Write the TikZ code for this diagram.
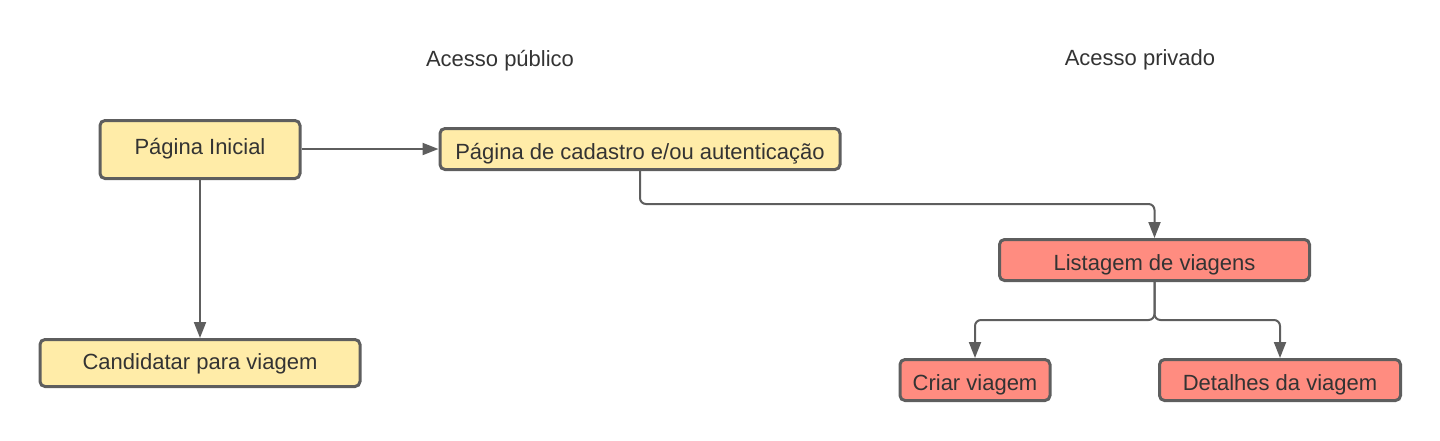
\documentclass[tikz,border=0pt]{standalone}
\usepackage{fontspec}
\setmainfont{Liberation Sans}
\usetikzlibrary{arrows.meta}
\definecolor{boxyellow}{HTML}{FFECA8}
\definecolor{boxred}{HTML}{FF8C80}
\definecolor{edgegray}{HTML}{5E5E5E}
\definecolor{txtgray}{HTML}{333333}
\begin{document}
\begin{tikzpicture}[x=1pt,y=-1pt,
  basebox/.style={draw=edgegray, line width=3pt, rounded corners=5pt, inner sep=0pt,
    text=txtgray, font=\fontsize{22}{26}\selectfont, anchor=center,
    text height=20pt, text depth=0pt},
  ybox/.style={basebox, fill=boxyellow},
  rbox/.style={basebox, fill=boxred},
  heading/.style={text=txtgray, font=\fontsize{22}{26}\selectfont, inner sep=0pt, anchor=base},
  conn/.style={draw=edgegray, line width=2pt, rounded corners=6pt,
    -{Triangle[length=16pt,width=12pt]}}
]
\useasboundingbox (0,0) rectangle (1440,440);
\node[heading] (pub) at (500,66) {Acesso público};
\node[heading] (priv) at (1140,65) {Acesso privado};

\node[ybox, minimum width=200pt, minimum height=58pt, text height=9.5pt] (ini) at (200,149.5) {Página Inicial};
\node[ybox, minimum width=400pt, minimum height=41pt] (cad) at (640,149) {Página de cadastro e/ou autenticação};
\node[ybox, minimum width=320pt, minimum height=47pt, text height=13pt] (cand) at (200,363) {Candidatar para viagem};
\node[rbox, minimum width=310pt, minimum height=41pt] (list) at (1154.5,260) {Listagem de viagens};
\node[rbox, minimum width=150pt, minimum height=41pt] (criar) at (975,380) {Criar viagem};
\node[rbox, minimum width=241pt, minimum height=41pt] (det) at (1280,380) {Detalhes da viagem};

\draw[conn] (ini.east |- 0,149) -- (cad.west |- 0,149);
\draw[conn] (ini.south) -- (cand.north);
\draw[conn] (cad.south) -- (640,204) -- (1154.5,204) -- (list.north);
\draw[conn] (list.south) -- (1154.5,320) -- (975,320) -- (criar.north);
\draw[conn] (list.south) -- (1154.5,320) -- (1280,320) -- (det.north);
\end{tikzpicture}
\end{document}
